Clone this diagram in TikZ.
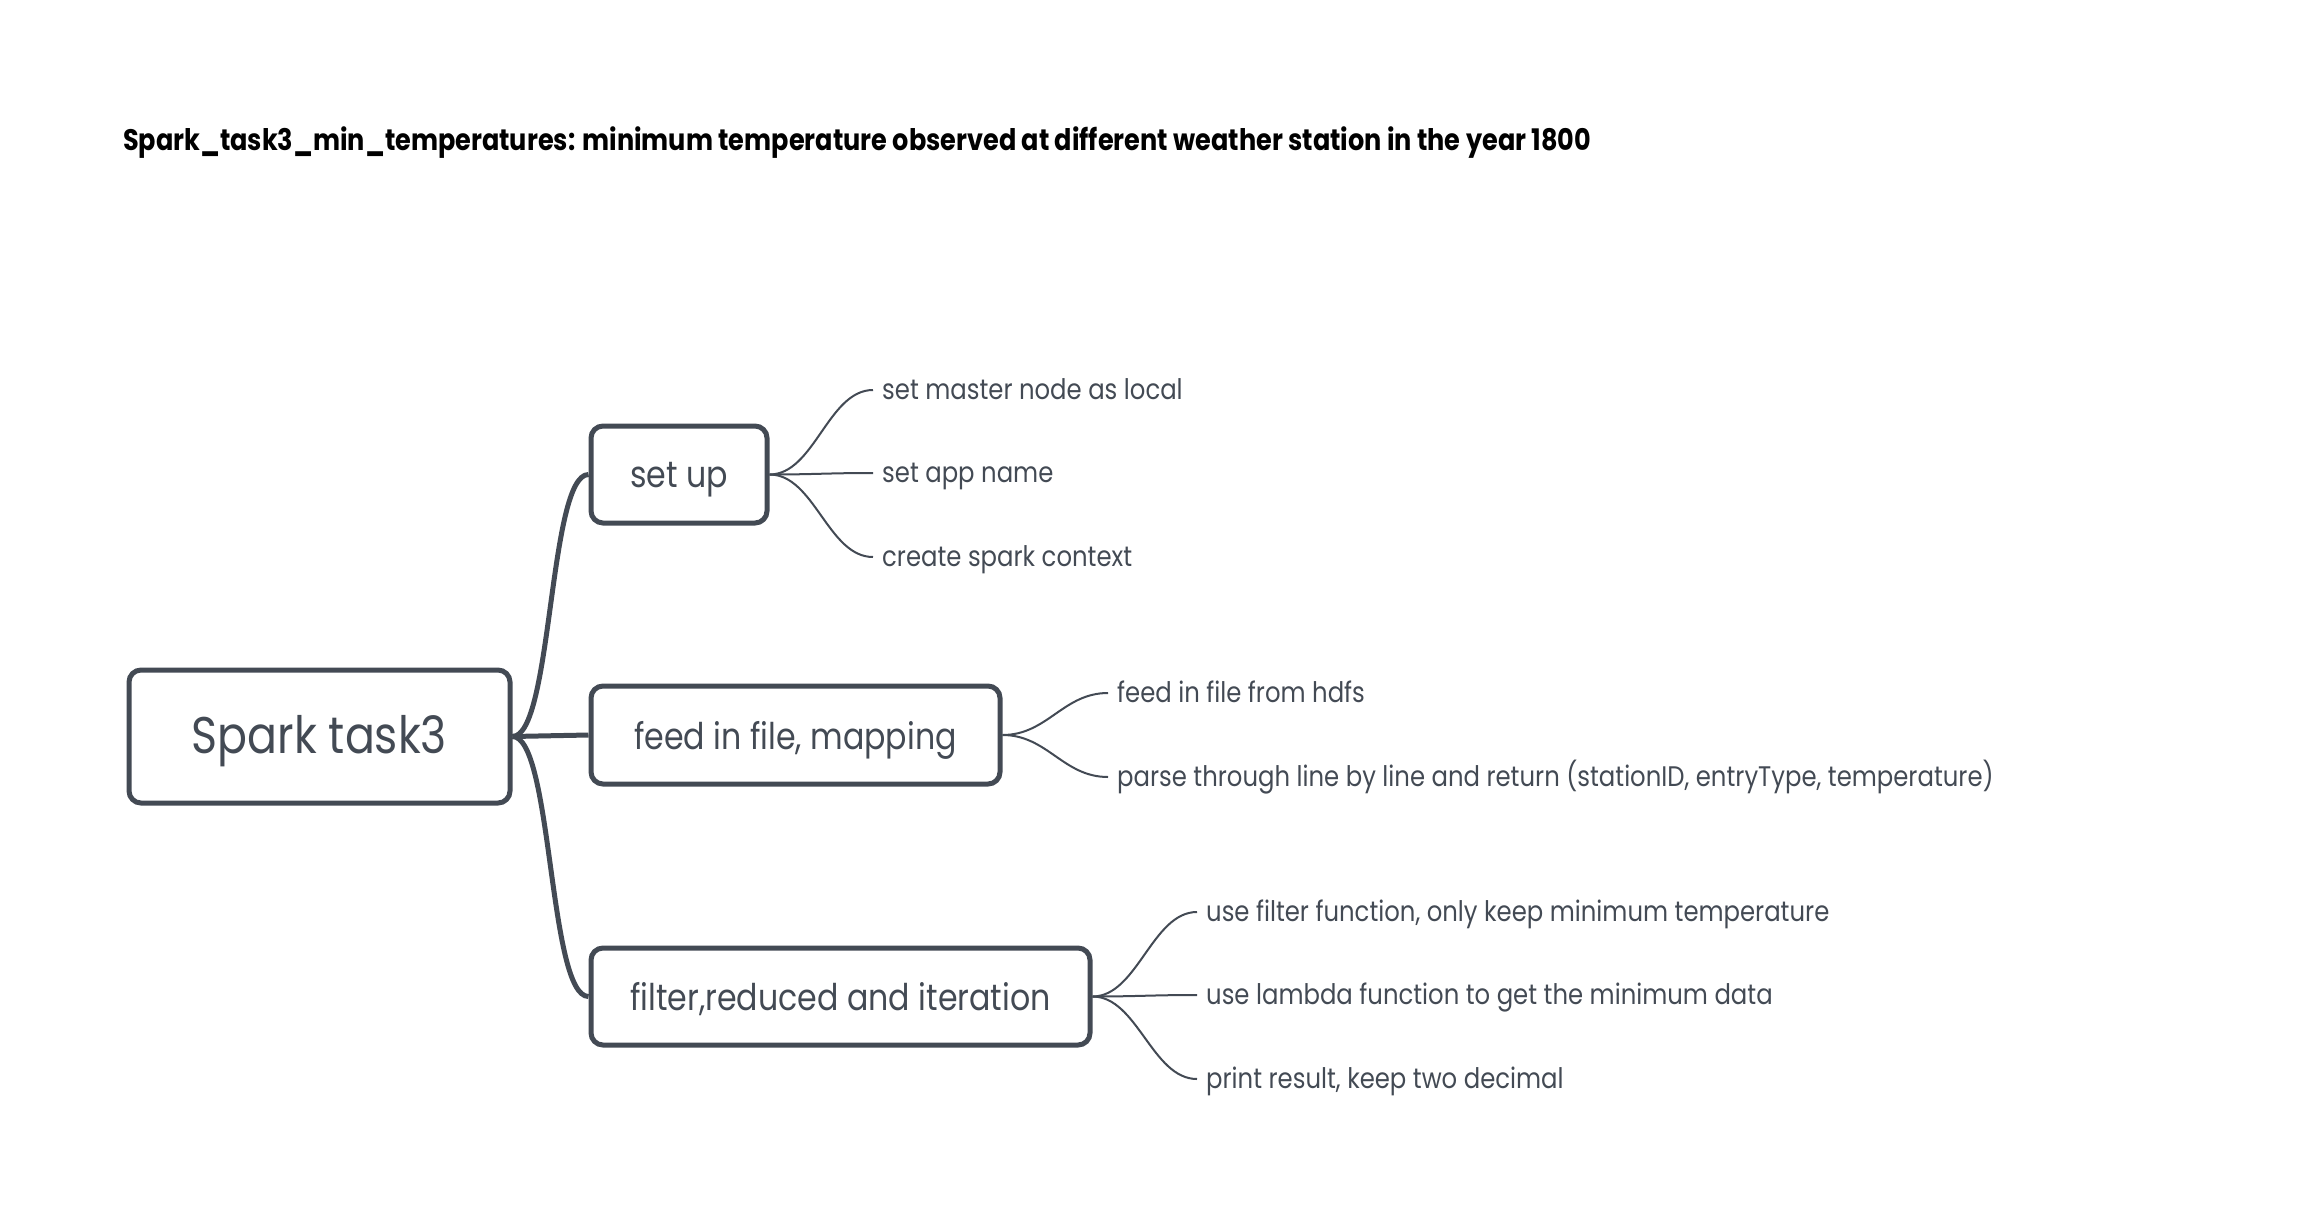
\documentclass[tikz,border=0pt]{standalone}
\usepackage{fontspec}
\setmainfont{Poppins}[FakeStretch=0.86]
\usepackage{tikz}
\usetikzlibrary{calc}
\definecolor{mapline}{HTML}{434A54}

\begin{document}
\begin{tikzpicture}[x=1pt,y=-1pt,
	mainbox/.style={draw=mapline,line width=5pt,rounded corners=12pt,inner sep=0pt,text=mapline,text depth=0pt},
	leaf/.style={anchor=mid west,inner sep=0pt,text=mapline,font=\fontsize{28.3}{32}\selectfont},
	thick link/.style={draw=mapline,line width=5pt},
	thin link/.style={draw=mapline,line width=2pt}]
	% page size
	\useasboundingbox (0,0) rectangle (2298,1212);
	
	% title
	\node[anchor=mid west,inner sep=0pt,font=\bfseries\fontsize{29.7}{33}\selectfont] (title) at (123,148)
		{Spark\_task3\_min\_temperatures: minimum temperature observed at different weather station in the year 1800};
	
	% root and the three branches
	\node[mainbox,minimum width=381pt,minimum height=133pt,font=\fontsize{51.5}{56}\selectfont,text depth=4pt] (root) at (319.5,736.5) {Spark task3};
	\node[mainbox,minimum width=176pt,minimum height=97pt,font=\fontsize{36.8}{42}\selectfont] (setup) at (679,474.5) {set up};
	\node[mainbox,minimum width=409pt,minimum height=98pt,font=\fontsize{36.8}{42}\selectfont] (feed) at (795.5,735) {feed in file, mapping};
	\node[mainbox,minimum width=499pt,minimum height=97pt,font=\fontsize{36.8}{42}\selectfont] (filter) at (840.5,996.5) {filter,reduced and iteration};
	
	% leaves of set up
	\node[leaf] (master) at (882,397) {set master node as local};
	\node[leaf] (appname) at (882,480) {set app name};
	\node[leaf] (context) at (882,564) {create spark context};
	% leaves of feed in file
	\node[leaf] (hdfs) at (1117,700) {feed in file from hdfs};
	\node[leaf] (parse) at (1117,784) {parse through line by line and return (stationID, entryType, temperature)};
	% leaves of filter
	\node[leaf] (filterfn) at (1206,919) {use filter function, only keep minimum temperature};
	\node[leaf] (lambda) at (1206,1002) {use lambda function to get the minimum data};
	\node[leaf] (result) at (1206,1086) {print result, keep two decimal};
	
	% root to branches
	\draw[thick link] (root.east) .. controls +(40,0) and +(-40,0) .. (setup.west);
	\draw[thick link] (root.east) -- (feed.west);
	\draw[thick link] (root.east) .. controls +(40,0) and +(-40,0) .. (filter.west);
	
	% branches to leaves
	\foreach \leafname in {master,appname,context}
		\draw[thin link] (setup.east) .. controls +(45,0) and +(-45,0) .. ($(\leafname.mid west)+(-9,-7)$);
	\foreach \leafname in {hdfs,parse}
		\draw[thin link] (feed.east) .. controls +(45,0) and +(-45,0) .. ($(\leafname.mid west)+(-9,-7)$);
	\foreach \leafname in {filterfn,lambda,result}
		\draw[thin link] (filter.east) .. controls +(45,0) and +(-45,0) .. ($(\leafname.mid west)+(-9,-7)$);
	
\end{tikzpicture}
\end{document}
